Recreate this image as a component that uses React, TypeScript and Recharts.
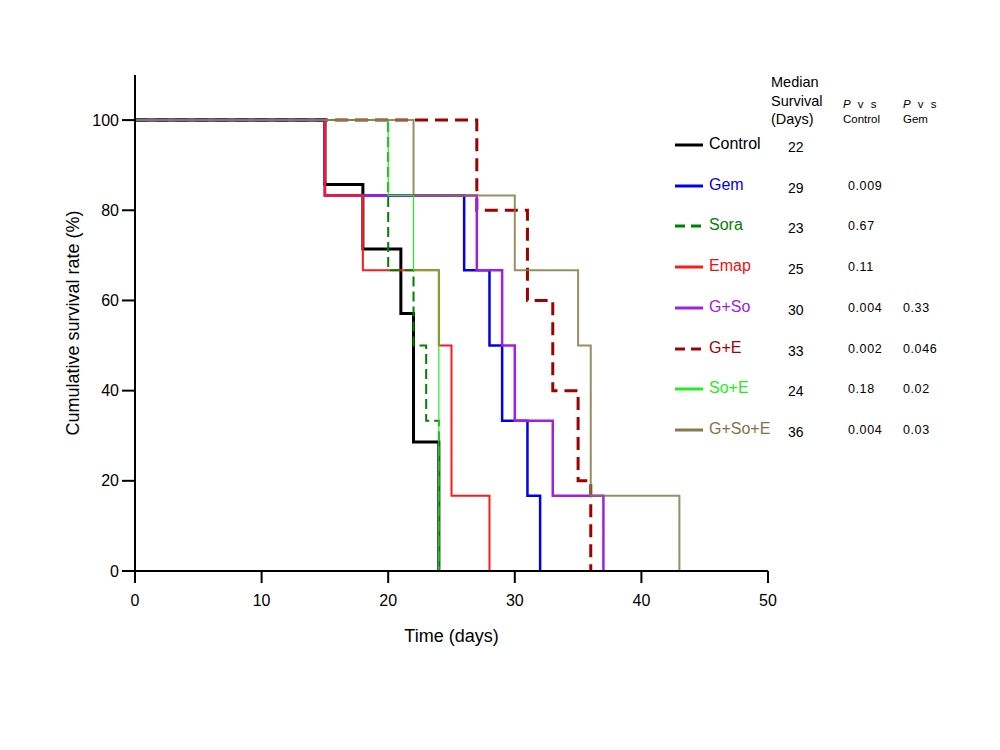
import { Label, Line, LineChart, XAxis, YAxis } from 'recharts'

type Pt = { t: number; s: number }

// Kaplan-Meier steps: event times (days) and survival (%) after each event
const controlT = [0, 15, 18, 21, 22, 24]
const controlS = [100, 85.7, 71.4, 57.1, 28.6, 0]
const gemT = [0, 15, 26, 28, 29, 31, 32]
const gemS = [100, 83.3, 66.7, 50, 33.3, 16.7, 0]
const soraT = [0, 20, 22, 23, 24]
const soraS = [100, 66.7, 50, 33.3, 0]
const emapT = [0, 15, 18, 24, 25, 28]
const emapS = [100, 83.3, 66.7, 50, 16.7, 0]
const gsoT = [0, 15, 27, 29, 30, 33, 37]
const gsoS = [100, 83.3, 66.7, 50, 33.3, 16.7, 0]
const geT = [0, 27, 31, 33, 35, 36]
const geS = [100, 80, 60, 40, 20, 0]
const soeT = [0, 20, 22, 24]
const soeS = [100, 83.3, 66.7, 0]
const gsoeT = [0, 22, 30, 35, 36, 43]
const gsoeS = [100, 83.3, 66.7, 50, 16.7, 0]

const groups = ['Control', 'Gem', 'Sora', 'Emap', 'G+So', 'G+E', 'So+E', 'G+So+E']
const medians = ['22', '29', '23', '25', '30', '33', '24', '36']
const pVsControl = ['', '0.009', '0.67', '0.11', '0.004', '0.002', '0.18', '0.004']
const pVsGem = ['', '', '', '', '0.33', '0.046', '0.02', '0.03']

const xTicks = [0, 10, 20, 30, 40, 50]
const yTicks = [0, 20, 40, 60, 80, 100]

const zip = (t: number[], s: number[]): Pt[] => t.map((v, i) => ({ t: v, s: s[i] }))

type Style = { color: string; text: string; width: number; dash?: string; opacity?: number }
const styles: Style[] = [
  { color: '#000000', text: '#000000', width: 3 },
  { color: '#0000ee', text: '#0000ee', width: 2.5 },
  { color: '#008000', text: '#008000', width: 2, dash: '10 5' },
  { color: '#ff1a1a', text: '#ee1111', width: 2 },
  { color: '#a020e0', text: '#a020e0', width: 2.5 },
  { color: '#a00000', text: '#a00000', width: 3, dash: '13 7' },
  { color: '#22ee22', text: '#22ee22', width: 1.2 },
  { color: '#857a48', text: '#7f7346', width: 2, opacity: 0.85 },
]

const series: Pt[][] = [
  zip(controlT, controlS),
  zip(gemT, gemS),
  zip(soraT, soraS),
  zip(emapT, emapS),
  zip(gsoT, gsoS),
  zip(geT, geS),
  zip(soeT, soeS),
  zip(gsoeT, gsoeS),
]

// drawing order (bottom to top)
const order = [5, 0, 1, 4, 3, 2, 6, 7]

const font = '"Liberation Sans", Arial, sans-serif'

function Table() {
  const rowTop = 145
  const rowGap = 40.7
  return (
    <div style={{ position: 'absolute', left: 0, top: 0, fontFamily: font, color: '#000', whiteSpace: 'nowrap' }}>
      <div style={{ position: 'absolute', left: 771, top: 73, fontSize: 14.5, lineHeight: '18.5px' }}>
        Median
        <br />
        Survival
        <br />
        (Days)
      </div>
      {[{ x: 843, sub: 'Control' }, { x: 903, sub: 'Gem' }].map((h) => (
        <div key={h.sub} style={{ position: 'absolute', left: h.x, top: 97, fontSize: 11.5, lineHeight: '15px' }}>
          <span style={{ letterSpacing: 2 }}>
            <i>P</i> v s
          </span>
          <br />
          {h.sub}
        </div>
      ))}
      {groups.map((g, i) => {
        const y = rowTop + i * rowGap
        const st = styles[i]
        return (
          <div key={g}>
            <svg style={{ position: 'absolute', left: 674, top: y - 4 }} width={30} height={8}>
              <line x1={1} y1={4} x2={29} y2={4} stroke={st.color} strokeWidth={3} strokeDasharray={st.dash ? '10 6' : undefined} />
            </svg>
            <div style={{ position: 'absolute', left: 709, top: y - 10, fontSize: 16, color: st.text, lineHeight: '18px' }}>{g}</div>
            <div style={{ position: 'absolute', left: 788, top: y - 7, fontSize: 14, lineHeight: '18px' }}>{medians[i]}</div>
            <div style={{ position: 'absolute', left: 848, top: y - 9, fontSize: 12.5, lineHeight: '18px', letterSpacing: 0.6 }}>{pVsControl[i]}</div>
            <div style={{ position: 'absolute', left: 903, top: y - 9, fontSize: 12.5, lineHeight: '18px', letterSpacing: 0.6 }}>{pVsGem[i]}</div>
          </div>
        )
      })}
    </div>
  )
}

export default function App() {
  return (
    <div style={{ position: 'absolute', left: 0, top: 0, width: 1000, height: 750, background: '#fff' }}>
      <LineChart width={1000} height={750} margin={{ top: 75, right: 232, bottom: 119, left: 0 }}>
        <XAxis
          type="number"
          dataKey="t"
          domain={[0, 50]}
          ticks={xTicks}
          tickSize={12}
          tickMargin={12}
          height={60}
          stroke="#000"
          strokeWidth={2}
          tick={{ fill: '#000', fontSize: 16, fontFamily: font }}
        >
          <Label value="Time (days)" position="bottom" offset={-2} style={{ fontSize: 18, fontFamily: font, fill: '#000' }} />
        </XAxis>
        <YAxis
          type="number"
          dataKey="s"
          domain={[0, 110]}
          ticks={yTicks}
          tickSize={13}
          tickMargin={3}
          width={135}
          stroke="#000"
          strokeWidth={2}
          tick={{ fill: '#000', fontSize: 16, fontFamily: font }}
        >
          <Label
            value="Cumulative survival rate (%)"
            angle={-90}
            position="center"
            dx={5}
            style={{ fontSize: 18, fontFamily: font, fill: '#000', textAnchor: 'middle' }}
          />
        </YAxis>
        {order.map((i) => (
          <Line
            key={groups[i]}
            data={series[i]}
            dataKey="s"
            type="stepAfter"
            stroke={styles[i].color}
            strokeWidth={styles[i].width}
            strokeDasharray={styles[i].dash}
            strokeOpacity={styles[i].opacity ?? 1}
            dot={false}
            activeDot={false}
            isAnimationActive={false}
          />
        ))}
      </LineChart>
      <Table />
    </div>
  )
}
